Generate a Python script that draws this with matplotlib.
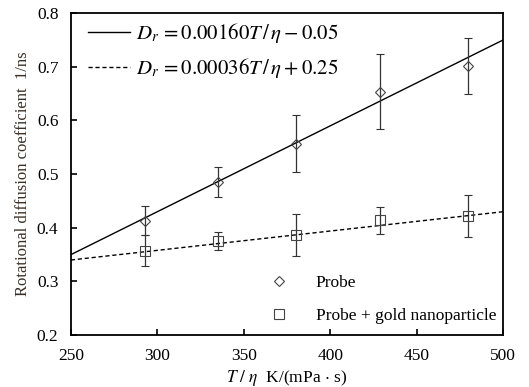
import matplotlib
matplotlib.use("Agg")
import matplotlib.pyplot as plt
from matplotlib.lines import Line2D
import numpy as np

plt.rcParams['font.family'] = ['Liberation Serif', 'DejaVu Serif']
plt.rcParams['mathtext.fontset'] = 'stix'

# measured points
x_probe = [292.8, 335.2, 380.5, 428.7, 479.8]
y_probe = [0.413, 0.486, 0.557, 0.654, 0.702]
e_probe = [0.027, 0.028, 0.053, 0.070, 0.052]

x_gold = [292.8, 335.2, 380.5, 428.7, 479.8]
y_gold = [0.357, 0.375, 0.386, 0.414, 0.422]
e_gold = [0.029, 0.017, 0.039, 0.025, 0.039]

# linear fits  Dr = a*T/eta + b
fit_probe = (0.00160, -0.05)
fit_gold = (0.00036, 0.25)
x_fit = [250, 500]

fig = plt.figure(figsize=(5.29, 3.87), dpi=100)
ax = fig.add_axes([0.134, 0.134, 0.817, 0.832])

xf = np.array(x_fit)
l1, = ax.plot(xf, fit_probe[0]*xf + fit_probe[1], color='black', lw=1.0)
l2, = ax.plot(xf, fit_gold[0]*xf + fit_gold[1], color='black', lw=1.0, ls=(0, (3, 2)))

ax.errorbar(x_probe, y_probe, yerr=e_probe, fmt='D', ms=5.5, mfc='none', mec='#444444',
            mew=0.8, ecolor='#333333', elinewidth=0.9, capsize=3, capthick=0.9)
ax.errorbar(x_gold, y_gold, yerr=e_gold, fmt='s', ms=7, mfc='none', mec='#444444',
            mew=0.8, ecolor='#333333', elinewidth=0.9, capsize=3, capthick=0.9)

ax.set_xlim(250, 500)
ax.set_ylim(0.2, 0.8)
ax.set_xticks([250, 300, 350, 400, 450, 500])
ax.set_yticks([0.2, 0.3, 0.4, 0.5, 0.6, 0.7, 0.8])
ax.set_yticklabels(['0.2', '0.3', '0.4', '0.5', '0.6', '0.7', '0.8'])
ax.tick_params(direction='in', length=4, width=1.2, labelsize=12.5, top=False, right=False)
ax.tick_params(axis='x', pad=9)
ax.tick_params(axis='y', pad=9)
for s in ax.spines.values():
    s.set_linewidth(1.3)

ax.set_xlabel(r'$T\ /\ \eta$  K/(mPa $\cdot$ s)', fontsize=12.5, labelpad=3)
ax.set_ylabel('Rotational diffusion coefficient  1/ns', fontsize=12, color='#3a3028', labelpad=4)

leg1 = ax.legend([l1, l2],
                 [r'$D_r\, = 0.00160T\,/\,\eta - 0.05$', r'$D_r\, = 0.00036T\,/\,\eta + 0.25$'],
                 loc='upper left', bbox_to_anchor=(0.02, 1.0), frameon=False, fontsize=15,
                 handlelength=2.0, handletextpad=0.3, borderaxespad=0.0, labelspacing=0.5)
ax.add_artist(leg1)

h1 = Line2D([], [], ls='none', marker='D', ms=5.5, mfc='none', mec='#444444', mew=0.8)
h2 = Line2D([], [], ls='none', marker='s', ms=7, mfc='none', mec='#444444', mew=0.8)
ax.legend([h1, h2], ['Probe', 'Probe + gold nanoparticle'], loc='lower right',
          bbox_to_anchor=(1.0, 0.012), frameon=False, fontsize=12.5, handletextpad=1.1,
          labelspacing=1.0, borderaxespad=0.0)

fig.savefig('out.png', dpi=100)
